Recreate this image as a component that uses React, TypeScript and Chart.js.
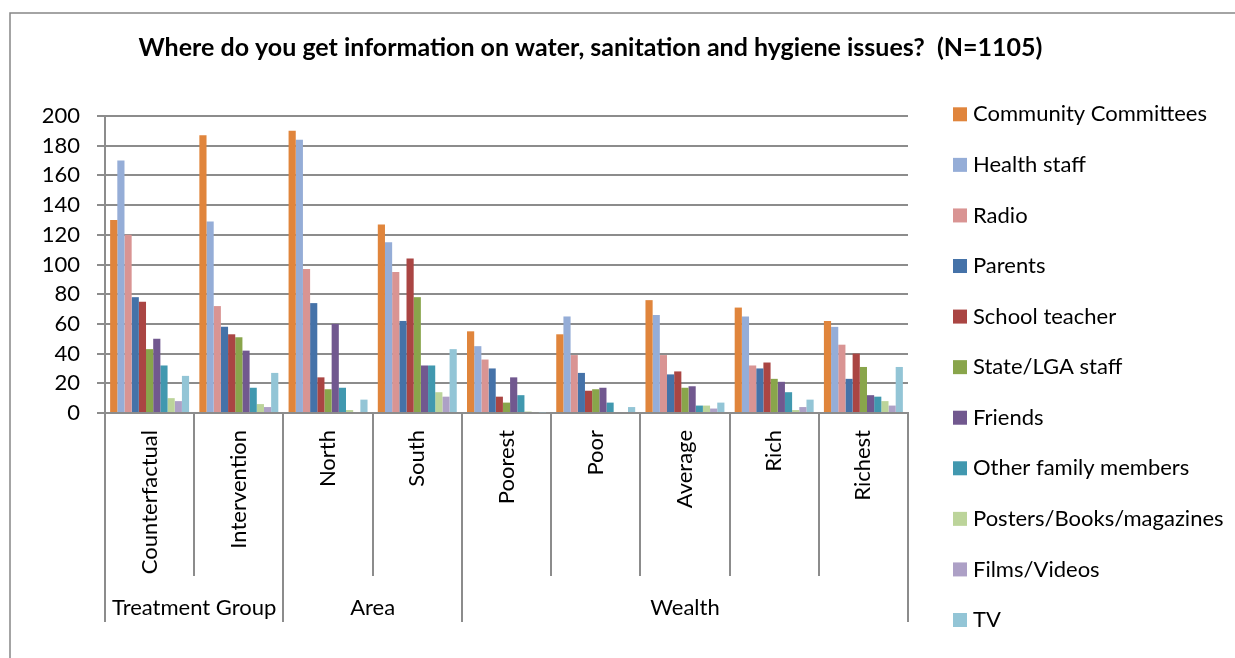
import React, { useEffect, useRef } from "react";
import { Chart, registerables } from "chart.js";

Chart.register(...registerables);

// Categories along the x axis and the groups they belong to
const categories = [
  "Counterfactual",
  "Intervention",
  "North",
  "South",
  "Poorest",
  "Poor",
  "Average",
  "Rich",
  "Richest",
];
const groups = [
  { label: "Treatment Group", from: 0, to: 1 },
  { label: "Area", from: 2, to: 3 },
  { label: "Wealth", from: 4, to: 8 },
];

// Information sources (one series each), values per category
const communityCommittees = [130, 187, 190, 127, 55, 53, 76, 71, 62];
const healthStaff = [170, 129, 184, 115, 45, 65, 66, 65, 58];
const radio = [120, 72, 97, 95, 36, 39, 39, 32, 46];
const parents = [78, 58, 74, 62, 30, 27, 26, 30, 23];
const schoolTeacher = [75, 53, 24, 104, 11, 15, 28, 34, 40];
const stateLgaStaff = [43, 51, 16, 78, 7, 16, 17, 23, 31];
const friends = [50, 42, 60, 32, 24, 17, 18, 21, 12];
const otherFamily = [32, 17, 17, 32, 12, 7, 5, 14, 11];
const posters = [10, 6, 2, 14, 1, 0, 5, 2, 8];
const films = [8, 4, 0, 11, 0, 0, 3, 4, 5];
const tv = [25, 27, 9, 43, 0.5, 4, 7, 9, 31];

const seriesNames = [
  "Community Committees",
  "Health staff",
  "Radio",
  "Parents",
  "School teacher",
  "State/LGA staff",
  "Friends",
  "Other family members",
  "Posters/Books/magazines",
  "Films/Videos",
  "TV",
];
const seriesValues = [
  communityCommittees,
  healthStaff,
  radio,
  parents,
  schoolTeacher,
  stateLgaStaff,
  friends,
  otherFamily,
  posters,
  films,
  tv,
];
const seriesColors = [
  "#E0853C",
  "#95ADD7",
  "#D99493",
  "#4572A8",
  "#AA4543",
  "#89A54B",
  "#71588F",
  "#4198AF",
  "#BCD49A",
  "#ADA0C6",
  "#93C5D6",
];

const yTicks = [0, 20, 40, 60, 80, 100, 120, 140, 160, 180, 200];

const TITLE =
  "Where do you get information on water, sanitation and hygiene issues?  (N=1105)";
const FONT = "Lato, 'Noto Sans', sans-serif";
const LINE = "#8c8c8c";

const W = 1235;
const H = 658;

const decorPlugin = {
  id: "decor",
  afterDraw(chart: any) {
    const ctx = chart.ctx as CanvasRenderingContext2D;
    const x = chart.scales.x;
    const area = chart.chartArea;
    const n = categories.length;
    const left = area.left;
    const right = area.right;
    const step = (right - left) / n;

    ctx.save();

    // outer frame (left and top edges)
    ctx.strokeStyle = "#868686";
    ctx.lineWidth = 1.5;
    ctx.beginPath();
    ctx.moveTo(10, H);
    ctx.lineTo(10, 13);
    ctx.lineTo(W + 2, 13);
    ctx.stroke();

    // title
    ctx.fillStyle = "#000";
    ctx.font = `bold 25px ${FONT}`;
    ctx.textAlign = "center";
    ctx.textBaseline = "alphabetic";
    ctx.fillText(TITLE, 590.5, 56);

    // category separators
    const groupEdges = new Set<number>([0, n]);
    groups.forEach((g) => {
      groupEdges.add(g.from);
      groupEdges.add(g.to + 1);
    });
    ctx.strokeStyle = LINE;
    ctx.lineWidth = 2;
    for (let i = 0; i <= n; i++) {
      const px = Math.round(left + i * step);
      const bottom = groupEdges.has(i) ? area.bottom + 209 : area.bottom + 163;
      ctx.beginPath();
      ctx.moveTo(px, area.bottom);
      ctx.lineTo(px, bottom);
      ctx.stroke();
    }

    // rotated category labels
    ctx.fillStyle = "#000";
    ctx.font = `22px ${FONT}`;
    categories.forEach((c, i) => {
      const cx = x.getPixelForValue(i);
      ctx.save();
      ctx.translate(cx, area.bottom + 17);
      ctx.rotate(-Math.PI / 2);
      ctx.textAlign = "right";
      ctx.textBaseline = "middle";
      ctx.fillText(c, 0, 0);
      ctx.restore();
    });

    // group labels
    ctx.textAlign = "center";
    ctx.textBaseline = "middle";
    groups.forEach((g) => {
      const gx = (left + g.from * step + left + (g.to + 1) * step) / 2;
      ctx.fillText(g.label, gx, area.bottom + 195);
    });

    // legend
    ctx.textAlign = "left";
    ctx.textBaseline = "middle";
    seriesNames.forEach((name, i) => {
      const cy = 114.3 + i * 50.57;
      ctx.fillStyle = seriesColors[i];
      ctx.fillRect(953, cy - 7, 14, 14);
      ctx.fillStyle = "#000";
      ctx.fillText(name, 973, cy);
    });

    ctx.restore();
  },
};

export default function App() {
  const canvasRef = useRef<HTMLCanvasElement | null>(null);

  useEffect(() => {
    document.documentElement.style.overflow = "hidden";
    document.body.style.margin = "0";
    const canvas = canvasRef.current;
    if (!canvas) return;
    const chart = new Chart(canvas, {
      type: "bar",
      data: {
        labels: categories,
        datasets: seriesNames.map((name, i) => ({
          label: name,
          data: seriesValues[i],
          backgroundColor: seriesColors[i],
          borderWidth: 0,
          categoryPercentage: 0.885,
          barPercentage: 1,
        })),
      },
      options: {
        responsive: false,
        animation: false,
        devicePixelRatio: 1,
        layout: {
          padding: { left: 0, top: 116, right: W - 908, bottom: H - 413 },
        },
        plugins: {
          legend: { display: false },
          title: { display: false },
          tooltip: { enabled: false },
        },
        scales: {
          x: {
            type: "category",
            ticks: { display: false },
            grid: { display: false, drawTicks: false },
            border: { display: true, color: LINE, width: 2 },
            afterFit: (s: any) => {
              s.height = 0;
            },
          },
          y: {
            min: 0,
            max: 200,
            afterBuildTicks: (s: any) => {
              s.ticks = yTicks.map((v) => ({ value: v }));
            },
            ticks: {
              color: "#000",
              font: { family: FONT, size: 22 },
              padding: 17,
            },
            grid: {
              color: LINE,
              lineWidth: 2,
              tickLength: 8,
              drawTicks: true,
            },
            border: { display: true, color: LINE, width: 2 },
            afterFit: (s: any) => {
              s.width = 105;
            },
          },
        },
      },
      plugins: [decorPlugin],
    });
    return () => chart.destroy();
  }, []);

  return (
    <div
      style={{
        position: "fixed",
        left: 0,
        top: 0,
        width: W,
        height: H,
        background: "#fff",
        overflow: "hidden",
      }}
    >
      <canvas ref={canvasRef} width={W} height={H} style={{ display: "block" }} />
    </div>
  );
}
